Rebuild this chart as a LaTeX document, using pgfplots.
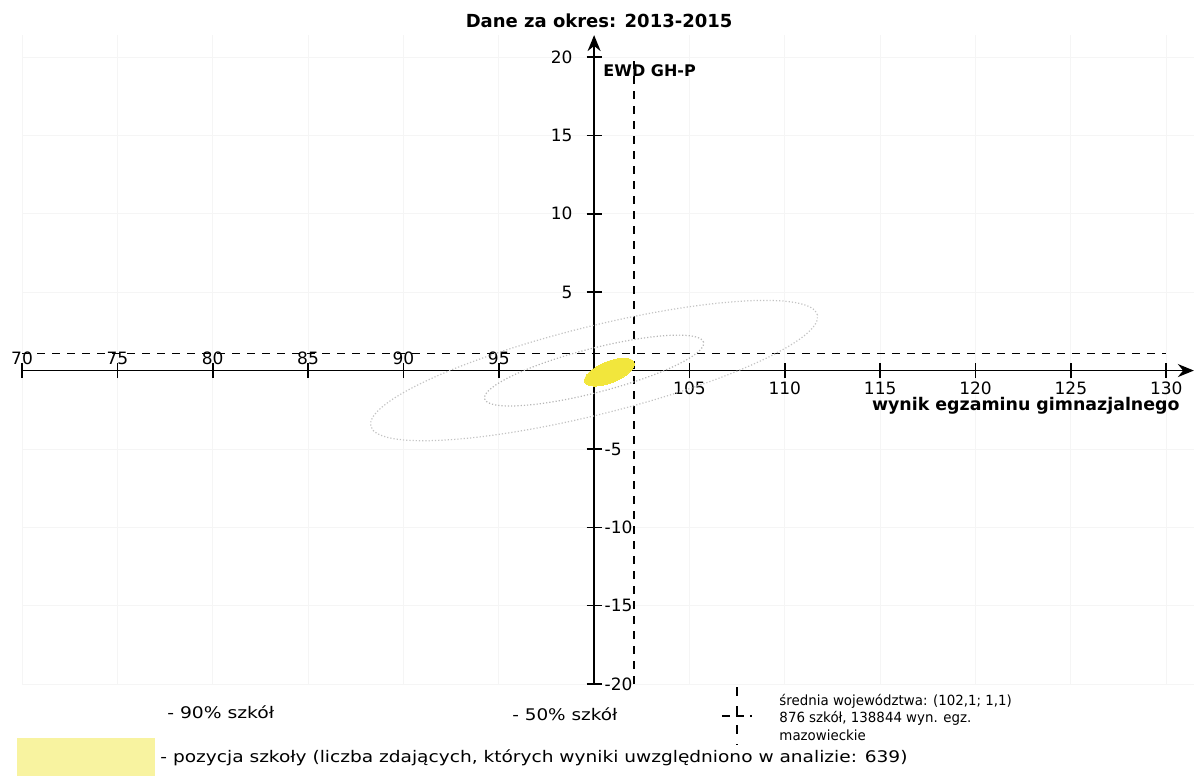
\documentclass[border=0pt]{standalone}
\usepackage{pgfplots}
\pgfplotsset{compat=1.18}
\usepackage{graphicx}
\usepackage{fontspec}
\setmainfont{DejaVu Sans}
\usetikzlibrary{arrows.meta}
\definecolor{schoolyellow}{RGB}{242,230,60}
\definecolor{legyellow}{RGB}{248,243,160}
\definecolor{ellgray}{RGB}{195,195,195}
\begin{document}
\begin{tikzpicture}
\begin{axis}[
  x=9.535pt, y=7.8375pt,
  x coord trafo/.code={\pgfmathparse{#1-100}},
  x coord inv trafo/.code={\pgfmathparse{#1+100}},
  xmin=70, xmax=131.45, ymin=-20, ymax=21.4,
  enlargelimits=false,
  axis lines=middle,
  axis line style={line width=0.9pt, -{Stealth[length=8pt,width=6.5pt]}},
  clip=false,
  tick align=center,
  major tick length=7.5pt,
  tick style={black, line width=0.8pt},
  xtick={105,110,...,130},
  xticklabels={105,110,115,120,125,130},
  extra x ticks={70,75,...,95},
  extra x tick labels={70,75,80,85,90,95},
  xticklabel style={anchor=north, yshift=1.6pt},
  extra x tick style={xticklabel style={anchor=south, yshift=1.3pt}},
  ytick={-20,-15,-10,-5},
  yticklabels={-20,-15,-10,-5},
  yticklabel style={anchor=west, xshift=5.5pt},
  extra y ticks={5,10,15,20},
  extra y tick labels={5,10,15,20},
  extra y tick style={yticklabel style={anchor=east, xshift=-9pt}},
  grid=major,
  grid style={black!4, line width=0.4pt},
  tick label style={font=\fontsize{8.5}{10}\selectfont},
]
% 90% of schools
\addplot[only marks, mark=o, mark size=22pt,
  mark options={draw=ellgray, densely dotted, line width=0.6pt, rotate=14, xscale=5.23}]
  coordinates {(100,0)};
% 50% of schools
\addplot[only marks, mark=o, mark size=11pt,
  mark options={draw=ellgray!120, densely dotted, line width=0.6pt, rotate=14.5, xscale=5.14}]
  coordinates {(100,0)};
% school position
\addplot[only marks, mark=*, mark size=5.3pt,
  mark options={fill=schoolyellow, draw=schoolyellow, line width=0pt, rotate=22, xscale=2.5}]
  coordinates {(100.8,-0.1)};
% province mean
\addplot[black, line width=0.8pt, dash pattern=on 4pt off 3.5pt]
  coordinates {(102.1,-20) (102.1,20)};
\addplot[black, line width=0.8pt, dash pattern=on 4pt off 3.5pt]
  coordinates {(70,1.1) (130,1.1)};

\node[font=\fontsize{9}{11}\selectfont\bfseries, inner sep=0] at (axis cs:100.26,22.30) {Dane za okres: 2013-2015};
\node[font=\fontsize{8}{10}\selectfont\bfseries, inner sep=0, anchor=west] at (axis cs:100.47,19.11) {EWD GH-P};
\node[font=\fontsize{8.7}{10}\selectfont\bfseries, inner sep=0, anchor=east] at (axis cs:130.72,-2.27) {wynik egzaminu gimnazjalnego};

% legend
\begin{scope}[font=\fontsize{8}{10}\selectfont]
\node[inner sep=0, anchor=base west] at (axis cs:77.60,-22.20) {\scalebox{1.17}[1]{- 90\% szkół}};
\node[inner sep=0, anchor=base west] at (axis cs:95.69,-22.35) {\scalebox{1.15}[1]{- 50\% szkół}};
\node[inner sep=0, anchor=base west] at (axis cs:77.24,-24.98) {\scalebox{1.16}[1]{- pozycja szkoły (liczba zdających, których wyniki uwzględniono w analizie: 639)}};
\end{scope}
\begin{scope}[font=\fontsize{7}{9}\selectfont]
\node[inner sep=0, anchor=base west] at (axis cs:109.70,-21.37) {\scalebox{0.955}[1]{średnia województwa: (102,1; 1,1)}};
\node[inner sep=0, anchor=base west] at (axis cs:109.70,-22.48) {\scalebox{0.955}[1]{876 szkół, 138844 wyn. egz.}};
\node[inner sep=0, anchor=base west] at (axis cs:109.70,-23.59) {\scalebox{0.955}[1]{mazowieckie}};
\end{scope}
\fill[legyellow] (axis cs:69.74,-23.45) rectangle (axis cs:76.97,-25.87);
\draw[black, line width=0.7pt, dash pattern=on 4pt off 3pt] (axis cs:106.70,-22.04) -- (axis cs:108.28,-22.04);
\draw[black, line width=0.7pt, dash pattern=on 4.5pt off 5pt] (axis cs:107.49,-20.2) -- (axis cs:107.49,-23.9);

\coordinate (BL) at (axis cs:68.846,-25.87);
\coordinate (TR) at (axis cs:131.51,23.64);
\end{axis}
\pgfresetboundingbox
\path[use as bounding box] (BL) rectangle (TR);
\end{tikzpicture}
\end{document}
